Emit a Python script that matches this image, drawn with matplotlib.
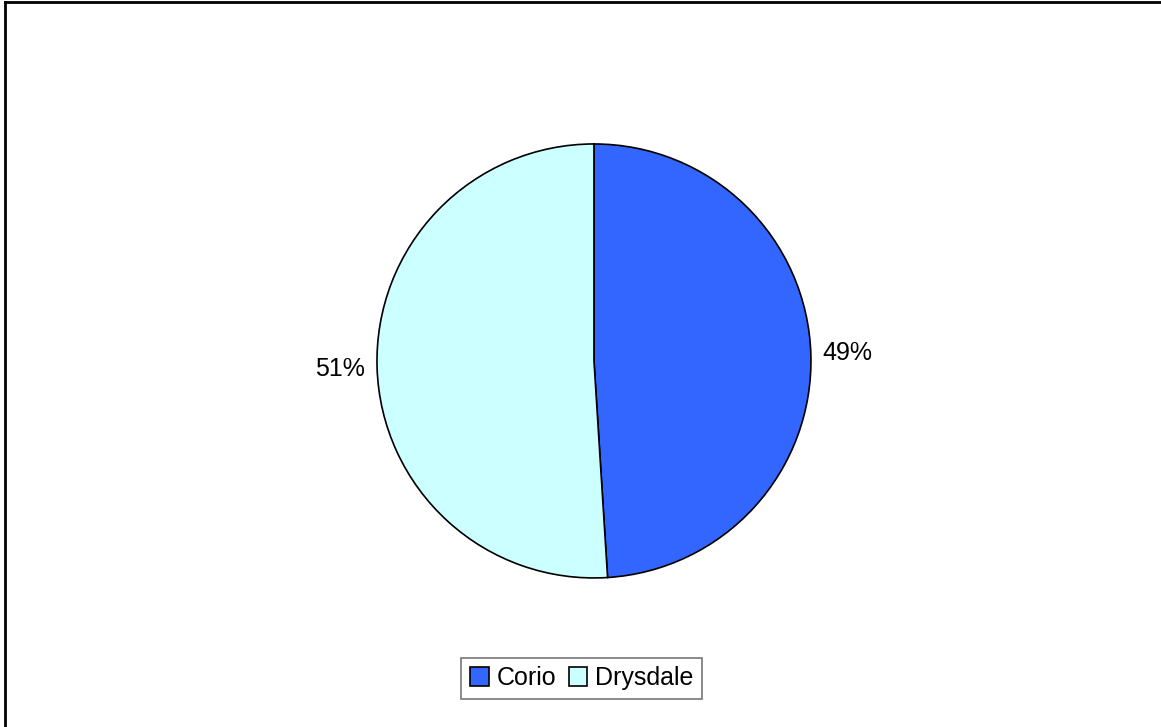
import matplotlib
matplotlib.use("Agg")
from matplotlib import pyplot as plt
from matplotlib.lines import Line2D

labels = ['Corio', 'Drysdale']
shares = [49, 51]
colors = ['#3366FF', '#CCFFFF']

plt.rcParams['font.family'] = ['Liberation Sans', 'DejaVu Sans']

fig = plt.figure(figsize=(11.61, 7.27), dpi=100)
ax = fig.add_axes([0.3247, 0.205, 0.3738, 0.597])

wedges, texts, autotexts = ax.pie(shares, colors=colors, startangle=90, counterclock=False,
                                  autopct='%1.0f%%', pctdistance=1.17,
                                  wedgeprops=dict(edgecolor='black', linewidth=1.2),
                                  textprops=dict(fontsize=18))
ax.set_xlim(-1, 1)
ax.set_ylim(-1, 1)
ax.set_aspect('equal')

leg = fig.legend(wedges, labels, loc='center', bbox_to_anchor=(0.501, 0.067), ncol=2,
                 fontsize=18, frameon=True, fancybox=False, handlelength=0.75, handleheight=0.75,
                 handletextpad=0.3, columnspacing=0.5, borderpad=0.35)
leg.get_frame().set_edgecolor('#555555')
leg.get_frame().set_linewidth(1.2)

# chart border (top and left visible)
fig.add_artist(Line2D([0.004, 1.0], [0.997, 0.997], color='black', lw=2, transform=fig.transFigure))
fig.add_artist(Line2D([0.0045, 0.0045], [0.0, 0.997], color='black', lw=2, transform=fig.transFigure))

fig.savefig('out.png', dpi=100)
